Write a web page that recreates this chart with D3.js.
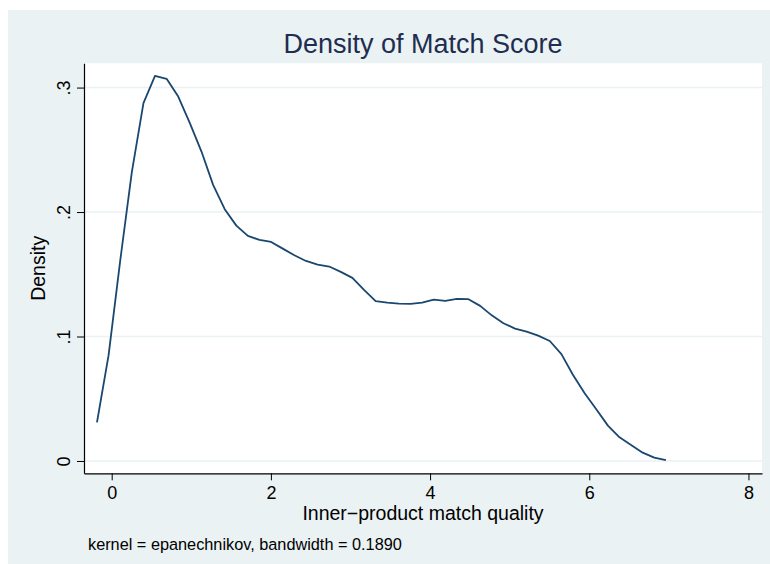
<!DOCTYPE html>
<html>
<head>
<meta charset="utf-8">
<script src="https://cdn.jsdelivr.net/npm/d3@7"></script>
<style>
  html, body { margin: 0; padding: 0; background: #ffffff; }
  svg { display: block; }
  text { font-family: "Liberation Sans", Arial, sans-serif; }
</style>
</head>
<body>
<svg id="chart" width="770" height="564"></svg>
<script>
// ---- data ----
const title = "Density of Match Score";
const xTitle = "Inner\u2212product match quality";
const yTitle = "Density";
const note = "kernel = epanechnikov, bandwidth = 0.1890";

const xValues = [-0.185, -0.039, 0.107, 0.253, 0.399, 0.544, 0.690, 0.836, 0.982, 1.128,
  1.274, 1.420, 1.566, 1.711, 1.857, 2.003, 2.149, 2.295, 2.441, 2.587,
  2.733, 2.878, 3.024, 3.170, 3.316, 3.462, 3.608, 3.754, 3.900, 4.046,
  4.191, 4.337, 4.483, 4.629, 4.775, 4.921, 5.067, 5.213, 5.358, 5.504,
  5.650, 5.796, 5.942, 6.088, 6.234, 6.380, 6.525, 6.671, 6.817, 6.963];

const densityValues = [0.031, 0.085, 0.161, 0.232, 0.2875, 0.3094, 0.307, 0.2928, 0.2714, 0.2486,
  0.2218, 0.2023, 0.1891, 0.1808, 0.1776, 0.1760, 0.1706, 0.1653, 0.1607, 0.1578,
  0.1562, 0.1519, 0.1471, 0.1374, 0.1284, 0.1272, 0.1264, 0.1262, 0.1272, 0.1296,
  0.1286, 0.1302, 0.1300, 0.1246, 0.1170, 0.1107, 0.1063, 0.1039, 0.1007, 0.0964,
  0.0858, 0.0691, 0.0544, 0.0415, 0.0284, 0.0190, 0.0129, 0.0067, 0.0027, 0.0006];

const xTicks = [0, 2, 4, 6, 8];
const yTicks = [0, 0.1, 0.2, 0.3];
const yTickLabels = ["0", ".1", ".2", ".3"];

// ---- layout ----
const W = 770, H = 564;
const plot = { left: 84, right: 762, top: 63.3, bottom: 473.3 };
const bg = "#EAF2F3";
const lineColor = "#1A476F";

const svg = d3.select("#chart");

svg.append("rect").attr("x", 8).attr("y", 10).attr("width", W - 8).attr("height", H - 10).attr("fill", bg);
svg.append("rect").attr("x", plot.left).attr("y", plot.top)
  .attr("width", plot.right - plot.left).attr("height", plot.bottom - plot.top).attr("fill", "#ffffff");

const x = d3.scaleLinear().domain([-0.348, 8.170]).range([plot.left, plot.right]);
const y = d3.scaleLinear().domain([-0.0099, 0.3195]).range([plot.bottom, plot.top]);

// gridlines
svg.append("g").selectAll("line").data(yTicks).join("line")
  .attr("x1", plot.left).attr("x2", plot.right)
  .attr("y1", d => y(d)).attr("y2", d => y(d))
  .attr("stroke", bg).attr("stroke-width", 1.6);

// density line
const line = d3.line().x((d, i) => x(xValues[i])).y(d => y(d));
svg.append("path").datum(densityValues)
  .attr("d", line).attr("fill", "none")
  .attr("stroke", lineColor).attr("stroke-width", 1.8).attr("stroke-linejoin", "round");

// y axis
const yAxis = svg.append("g").attr("transform", `translate(${plot.left},0)`)
  .call(d3.axisLeft(y).tickValues(yTicks).tickSize(7).tickSizeOuter(0)
    .tickFormat((d, i) => yTickLabels[i]));
yAxis.select(".domain").attr("stroke", "#000").attr("stroke-width", 1.2);
yAxis.selectAll(".tick line").attr("stroke", "#000").attr("stroke-width", 1);
yAxis.selectAll(".tick text")
  .attr("x", 0).attr("dy", 0).attr("text-anchor", "middle")
  .attr("transform", "translate(-14,0) rotate(-90)")
  .attr("fill", "#000").style("font-size", "18px");

// x axis
const xAxis = svg.append("g").attr("transform", `translate(0,${plot.bottom})`)
  .call(d3.axisBottom(x).tickValues(xTicks).tickSize(7).tickSizeOuter(0)
    .tickFormat(d3.format("d")));
xAxis.select(".domain").attr("stroke", "#000").attr("stroke-width", 1.2);
xAxis.selectAll(".tick line").attr("stroke", "#000").attr("stroke-width", 1);
xAxis.selectAll(".tick text").attr("y", 26).attr("dy", 0)
  .attr("fill", "#000").style("font-size", "18px");

// titles
const cx = (plot.left + plot.right) / 2;
const cy = (plot.top + plot.bottom) / 2;
svg.append("text").attr("x", cx).attr("y", 53).attr("text-anchor", "middle")
  .attr("fill", "#1E2D50").style("font-size", "27px").text(title);
svg.append("text").attr("x", cx).attr("y", 520).attr("text-anchor", "middle")
  .attr("fill", "#000").style("font-size", "19.5px").text(xTitle);
svg.append("text").attr("transform", `translate(45,${cy}) rotate(-90)`).attr("text-anchor", "middle")
  .attr("fill", "#000").style("font-size", "19.5px").text(yTitle);
svg.append("text").attr("x", 88).attr("y", 550).attr("text-anchor", "start")
  .attr("fill", "#000").style("font-size", "16.3px").text(note);
</script>
</body>
</html>
